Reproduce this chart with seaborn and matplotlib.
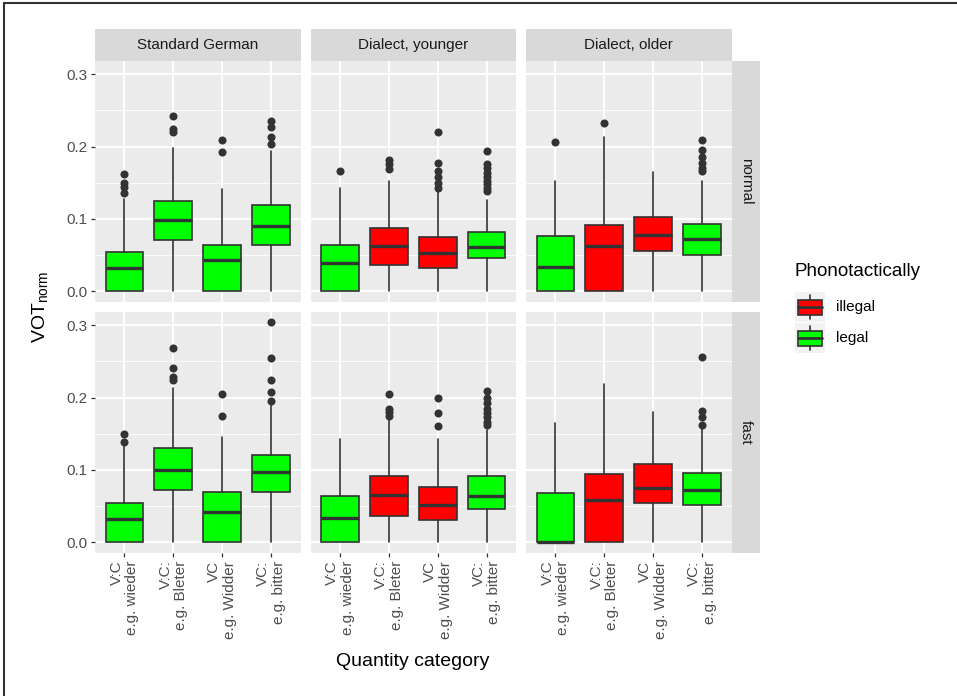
import matplotlib
matplotlib.use("Agg")
import matplotlib.pyplot as plt
from matplotlib.lines import Line2D
from matplotlib.patches import Rectangle
from matplotlib.ticker import MultipleLocator
import seaborn as sns

# facets and categories
groups = ["Standard German", "Dialect, younger", "Dialect, older"]
tempos = ["normal", "fast"]
categories = ["V:C\ne.g. wieder", "V:C:\ne.g. Bleter", "VC\ne.g. Widder", "VC:\ne.g. bitter"]
status = [["legal", "legal", "legal", "legal"],
          ["legal", "illegal", "illegal", "legal"],
          ["legal", "illegal", "illegal", "legal"]]

# box statistics: [tempo][group][category]
q1 = [[[0.0, 0.0712, 0.0, 0.0643], [0.0, 0.0363, 0.0322, 0.0459], [0.0, 0.0, 0.0556, 0.0501]],
      [[0.0, 0.0727, 0.0, 0.069], [0.0, 0.0354, 0.0299, 0.046], [0.0, 0.0, 0.0543, 0.0515]]]
median = [[[0.032, 0.0983, 0.0423, 0.090], [0.039, 0.0629, 0.0528, 0.0611], [0.0335, 0.0629, 0.0776, 0.0721]],
          [[0.0313, 0.1003, 0.0414, 0.0966], [0.0331, 0.0649, 0.0506, 0.0644], [0.0, 0.0584, 0.0746, 0.0718]]]
q3 = [[[0.0537, 0.124, 0.0634, 0.1194], [0.0634, 0.0868, 0.0749, 0.0818], [0.0758, 0.0919, 0.1024, 0.0928]],
      [[0.0543, 0.1307, 0.069, 0.1206], [0.064, 0.0916, 0.0764, 0.0911], [0.0681, 0.0948, 0.1081, 0.0962]]]
whisker_low = [[[0.0, 0.0, 0.0, 0.0], [0.0, 0.0, 0.0, 0.0], [0.0, 0.0, 0.0, 0.0]],
               [[0.0, 0.0, 0.0, 0.0], [0.0, 0.0, 0.0, 0.0], [0.0, 0.0, 0.0, 0.0]]]
whisker_high = [[[0.128, 0.1975, 0.141, 0.194], [0.1424, 0.1525, 0.138, 0.126], [0.1525, 0.2136, 0.165, 0.1525]],
                [[0.134, 0.2126, 0.146, 0.190], [0.1427, 0.170, 0.1427, 0.1555], [0.1647, 0.2186, 0.180, 0.158]]]
outliers = [
    [[[0.1355, 0.144, 0.150, 0.162], [0.220, 0.224, 0.2425], [0.192, 0.209], [0.2035, 0.213, 0.227, 0.235]],
     [[0.166], [0.1686, 0.1755, 0.181], [0.1433, 0.150, 0.1585, 0.1667, 0.1768, 0.220],
      [0.138, 0.143, 0.148, 0.153, 0.158, 0.164, 0.170, 0.176, 0.194]],
     [[0.206], [0.2324], [], [0.166, 0.170, 0.177, 0.185, 0.195, 0.209]]],
    [[[0.139, 0.150], [0.224, 0.228, 0.241, 0.269], [0.175, 0.205], [0.195, 0.208, 0.224, 0.255, 0.304]],
     [[], [0.175, 0.1795, 0.184, 0.2043], [0.160, 0.178, 0.199],
      [0.162, 0.1666, 0.1726, 0.1786, 0.184, 0.193, 0.199, 0.2085]],
     [[], [], [], [0.1625, 0.1726, 0.1818, 0.2559]]],
]

fill = {"illegal": "#FF0000", "legal": "#00FF00"}
legend_order = ["illegal", "legal"]
ink = "#333333"

sns.set_theme(style="darkgrid", rc={"axes.facecolor": "#EBEBEB", "grid.color": "white",
                                    "figure.facecolor": "white"})
plt.rcParams["font.family"] = ["Liberation Sans", "DejaVu Sans"]
plt.rcParams["mathtext.fontset"] = "custom"
plt.rcParams["mathtext.rm"] = "Liberation Sans"
plt.rcParams["mathtext.it"] = "Liberation Sans:italic"

W, H = 957, 696
fig = plt.figure(figsize=(W / 100, H / 100), dpi=100)


def px(x0, y0, x1, y1):
    return [x0 / W, 1 - y1 / H, (x1 - x0) / W, (y1 - y0) / H]


col_x = [(95, 300.5), (310.5, 516), (526, 731.5)]
row_y = [(61, 302), (312, 553)]


def strip(rect, label, rotation=0):
    s = fig.add_axes(rect)
    s.set_facecolor("#D9D9D9")
    s.grid(False)
    s.set_xticks([])
    s.set_yticks([])
    for sp in s.spines.values():
        sp.set_visible(False)
    s.text(0.5, 0.5, label, transform=s.transAxes, ha="center", va="center",
           rotation=rotation, fontsize=11, color="#1A1A1A")


for r in range(2):
    for c in range(3):
        ax = fig.add_axes(px(col_x[c][0], row_y[r][0], col_x[c][1], row_y[r][1]))
        stats = []
        for k in range(len(categories)):
            stats.append(dict(q1=q1[r][c][k], med=median[r][c][k], q3=q3[r][c][k],
                              whislo=whisker_low[r][c][k], whishi=whisker_high[r][c][k],
                              fliers=outliers[r][c][k]))
        bp = ax.bxp(stats, positions=range(len(categories)), widths=0.77, patch_artist=True,
                    showcaps=False,
                    boxprops=dict(edgecolor=ink, linewidth=1.2),
                    whiskerprops=dict(color=ink, linewidth=1.2),
                    medianprops=dict(color=ink, linewidth=2.4),
                    flierprops=dict(marker="o", markersize=5.8, markerfacecolor=ink,
                                    markeredgecolor="none"))
        for patch, s in zip(bp["boxes"], status[c]):
            patch.set_facecolor(fill[s])

        ax.set_xlim(-0.6, 3.6)
        ax.set_ylim(-0.0152, 0.3185)
        ax.yaxis.set_major_locator(MultipleLocator(0.1))
        ax.yaxis.set_minor_locator(MultipleLocator(0.05))
        ax.set_yticks([0.0, 0.1, 0.2, 0.3])
        ax.set_yticklabels(["0.0", "0.1", "0.2", "0.3"])
        ax.set_xticks(range(len(categories)))
        ax.set_xticklabels(categories, rotation=90, ha="center", va="top",
                           multialignment="right", linespacing=1.15)
        ax.grid(which="major", color="white", linewidth=1.3)
        ax.grid(which="minor", axis="y", color="white", linewidth=0.6)
        ax.set_axisbelow(True)
        for sp in ax.spines.values():
            sp.set_visible(False)
        ax.tick_params(axis="both", which="major", length=3, width=0.9, color=ink,
                       labelcolor="#4D4D4D", labelsize=11, pad=2.5,
                       bottom=True, left=True)
        ax.tick_params(axis="y", which="minor", left=False)
        if c > 0:
            ax.tick_params(axis="y", left=False, labelleft=False)
        if r == 0:
            ax.tick_params(axis="x", bottom=False, labelbottom=False)

for c in range(3):
    strip(px(col_x[c][0], 29, col_x[c][1], 61), groups[c])
for r in range(2):
    strip(px(731.5, row_y[r][0], 760, row_y[r][1]), tempos[r], rotation=-90)

# axis titles
fig.text(40 / W, 1 - 307 / H, r"VOT$_{\mathrm{norm}}$", rotation=90, ha="center", va="center",
         fontsize=14, color="black")
fig.text(413 / W, 1 - 662 / H, "Quantity category", ha="center", va="center",
         fontsize=14, color="black")

# legend
fig.text(795 / W, 1 - 272 / H, "Phonotactically", ha="left", va="center", fontsize=13.5,
         color="black")
for i, lab in enumerate(legend_order):
    top = 292 + i * 31
    k = fig.add_axes(px(795, top, 825, top + 30))
    k.set_facecolor("#F2F2F2")
    k.grid(False)
    k.set_xticks([])
    k.set_yticks([])
    for sp in k.spines.values():
        sp.set_visible(False)
    k.set_xlim(0, 1)
    k.set_ylim(0, 1)
    k.plot([0.5, 0.5], [0.1, 0.25], color=ink, lw=1.2)
    k.plot([0.5, 0.5], [0.75, 0.9], color=ink, lw=1.2)
    k.add_patch(Rectangle((0.1, 0.25), 0.8, 0.5, facecolor=fill[lab], edgecolor=ink, lw=1.2))
    k.plot([0.1, 0.9], [0.5, 0.5], color=ink, lw=2.0)
    fig.text(836 / W, 1 - (top + 15) / H, lab, ha="left", va="center", fontsize=11,
             color="black")

# image frame (top and left edges)
fig.add_artist(Line2D([4 / W, 1], [1 - 3 / H, 1 - 3 / H], transform=fig.transFigure,
                      color=ink, lw=1.5))
fig.add_artist(Line2D([4 / W, 4 / W], [0, 1 - 3 / H], transform=fig.transFigure,
                      color=ink, lw=1.5))

fig.savefig("out.png", dpi=100)
